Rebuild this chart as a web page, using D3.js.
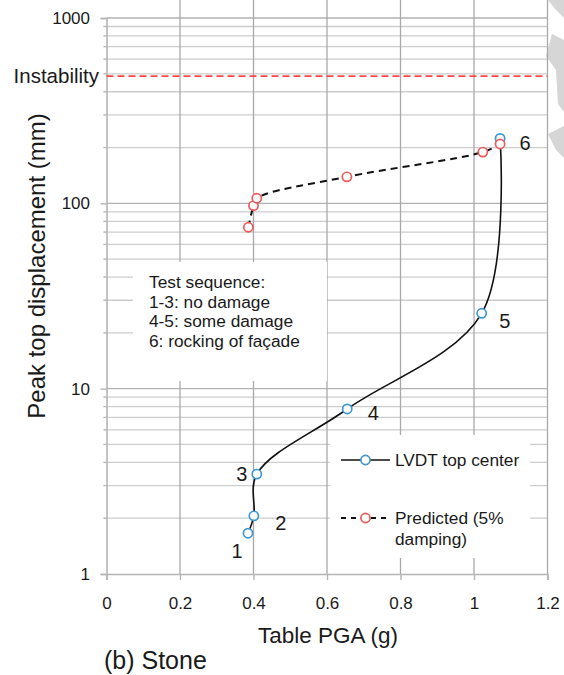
<!DOCTYPE html>
<html>
<head>
<meta charset="utf-8">
<script src="https://cdn.jsdelivr.net/npm/d3@7"></script>
<style>
  body { margin: 0; background: #fff; }
  svg { display: block; font-family: "Liberation Sans", Arial, sans-serif; }
</style>
</head>
<body>
<svg id="chart" width="564" height="675"></svg>
<script>
var testLabels = ["1", "2", "3", "4", "5", "6"];
var lvdtPga = [0.385, 0.401, 0.409, 0.655, 1.021, 1.071];
var lvdtDisp = [1.66, 2.06, 3.46, 7.77, 25.5, 224];
var predPga = [0.386, 0.400, 0.409, 0.654, 1.024, 1.071];
var predDisp = [74.3, 97.2, 106.5, 139, 189, 209];
var instability = 486;
var xTicks = [0, 0.2, 0.4, 0.6, 0.8, 1, 1.2];
var yTicks = [1, 10, 100, 1000];
var annotation = ["Test sequence:", "1-3: no damage", "4-5: some damage", "6: rocking of façade"];

// label offsets from each LVDT point (px)
var labelOffsets = [[-11, 25], [27, 14], [-15, 7], [26, 11], [23, 15], [25, 12]];

var svg = d3.select("#chart");
var x = d3.scaleLinear().domain([0, 1.2]).range([106.5, 547.5]);
var y = d3.scaleLog().domain([1, 1000]).range([574, 18]);
var left = x(0), right = x(1.2), top = y(1000), bottom = y(1);

var blue = "#3d97d3", red = "#ee5a5a";

// page-edge shading at right
svg.append("path")
    .attr("d", "M548,0 L564,0 L564,18 L556,10 Z M552,34 L564,40 L564,112 L558,104 L556,70 L546,56 Z M548,134 L564,126 L564,158 L556,150 Z")
    .attr("fill", "#d6d6d6");

// grid
var grid = svg.append("g");
grid.selectAll(".hminor")
    .data(y.ticks().filter(function (d) { return yTicks.indexOf(d) < 0; }))
    .enter().append("line")
    .attr("x1", left - 3).attr("x2", right)
    .attr("y1", function (d) { return y(d); }).attr("y2", function (d) { return y(d); })
    .attr("stroke", "#cdcdcd").attr("stroke-width", 1.3);
grid.selectAll(".hmajor")
    .data(yTicks.slice(1))
    .enter().append("line")
    .attr("x1", left).attr("x2", right)
    .attr("y1", function (d) { return y(d); }).attr("y2", function (d) { return y(d); })
    .attr("stroke", "#b2b2b2").attr("stroke-width", 1.3);
grid.selectAll(".vmajor")
    .data(xTicks.slice(1))
    .enter().append("line")
    .attr("x1", function (d) { return x(d); }).attr("x2", function (d) { return x(d); })
    .attr("y1", top).attr("y2", bottom)
    .attr("stroke", "#a9a9a9").attr("stroke-width", 1.3);

// white text boxes that hide the grid
svg.append("rect").attr("x", 133).attr("y", 262).attr("width", 194).attr("height", 119).attr("fill", "#fff");
svg.append("rect").attr("x", 330).attr("y", 435).attr("width", 200).attr("height", 123).attr("fill", "#fff");

// axes
var xAxis = svg.append("g")
    .attr("transform", "translate(0," + bottom + ")")
    .call(d3.axisBottom(x).tickValues(xTicks).tickSize(6).tickPadding(17)
        .tickFormat(function (d) { return String(+d.toFixed(1)); }));
var yAxis = svg.append("g")
    .attr("transform", "translate(" + left + ",0)")
    .call(d3.axisLeft(y).tickValues(yTicks).tickSize(6).tickPadding(10.5)
        .tickFormat(function (d) { return String(d); }));
[xAxis, yAxis].forEach(function (a) {
  a.select(".domain").attr("stroke", "#b5b5b5").attr("stroke-width", 1.6);
  a.selectAll(".tick line").attr("stroke", "#b5b5b5").attr("stroke-width", 1.4);
  a.selectAll(".tick text").attr("fill", "#1a1a1a").attr("font-size", 17)
      .attr("font-family", "Liberation Sans, Arial, sans-serif");
});
// minor ticks on y axis
yAxis.selectAll(".mtick")
    .data(y.ticks().filter(function (d) { return yTicks.indexOf(d) < 0; }))
    .enter().append("line")
    .attr("x1", -3).attr("x2", 0)
    .attr("y1", function (d) { return y(d); }).attr("y2", function (d) { return y(d); })
    .attr("stroke", "#b5b5b5");

// instability limit
svg.append("line")
    .attr("x1", left).attr("x2", right)
    .attr("y1", y(instability)).attr("y2", y(instability))
    .attr("stroke", "#ff4747").attr("stroke-width", 1.7).attr("stroke-dasharray", "7,4");
svg.append("text")
    .attr("x", 99).attr("y", y(instability)).attr("dy", "0.35em")
    .attr("text-anchor", "end").attr("font-size", 20.5).attr("fill", "#1a1a1a")
    .text("Instability");

// series
var lvdt = lvdtPga.map(function (d, i) { return [x(d), y(lvdtDisp[i])]; });
var pred = predPga.map(function (d, i) { return [x(d), y(predDisp[i])]; });
var line = d3.line().curve(d3.curveCatmullRom);

svg.append("path").attr("d", line(pred))
    .attr("fill", "none").attr("stroke", "#111").attr("stroke-width", 2)
    .attr("stroke-dasharray", "7,5");
svg.append("path").attr("d", line(lvdt))
    .attr("fill", "none").attr("stroke", "#111").attr("stroke-width", 1.6);

svg.selectAll(".lvdt").data(lvdt).enter().append("circle")
    .attr("cx", function (d) { return d[0]; }).attr("cy", function (d) { return d[1]; })
    .attr("r", 4.6).attr("fill", "#fff").attr("stroke", blue).attr("stroke-width", 1.7);
svg.selectAll(".pred").data(pred).enter().append("circle")
    .attr("cx", function (d) { return d[0]; }).attr("cy", function (d) { return d[1]; })
    .attr("r", 4.6).attr("fill", "#fff").attr("stroke", red).attr("stroke-width", 1.7);

svg.selectAll(".num").data(lvdt).enter().append("text")
    .attr("x", function (d, i) { return d[0] + labelOffsets[i][0]; })
    .attr("y", function (d, i) { return d[1] + labelOffsets[i][1]; })
    .attr("text-anchor", "middle").attr("font-size", 20).attr("fill", "#1a1a1a")
    .text(function (d, i) { return testLabels[i]; });

// annotation box text
svg.append("g").selectAll("text").data(annotation).enter().append("text")
    .attr("x", 149).attr("y", function (d, i) { return 288 + i * 19.6; })
    .attr("font-size", 17.3).attr("fill", "#1a1a1a")
    .text(function (d) { return d; });

// legend
var lg = svg.append("g");
lg.append("line").attr("x1", 341).attr("x2", 390).attr("y1", 460).attr("y2", 460)
    .attr("stroke", "#111").attr("stroke-width", 1.6);
lg.append("circle").attr("cx", 365.5).attr("cy", 460).attr("r", 4.6)
    .attr("fill", "#fff").attr("stroke", blue).attr("stroke-width", 1.7);
lg.append("text").attr("x", 395).attr("y", 466).attr("font-size", 17.3).attr("fill", "#1a1a1a")
    .text("LVDT top center");
lg.append("line").attr("x1", 341).attr("x2", 390).attr("y1", 518).attr("y2", 518)
    .attr("stroke", "#111").attr("stroke-width", 2).attr("stroke-dasharray", "5,5");
lg.append("circle").attr("cx", 365.5).attr("cy", 518).attr("r", 4.6)
    .attr("fill", "#fff").attr("stroke", red).attr("stroke-width", 1.7);
lg.append("text").attr("x", 395).attr("y", 524).attr("font-size", 17.3).attr("fill", "#1a1a1a")
    .text("Predicted (5%");
lg.append("text").attr("x", 395).attr("y", 545).attr("font-size", 17.3).attr("fill", "#1a1a1a")
    .text("damping)");

// titles
svg.append("text")
    .attr("transform", "translate(45," + 266 + ") rotate(-90)")
    .attr("text-anchor", "middle").attr("font-size", 24).attr("fill", "#1a1a1a")
    .text("Peak top displacement (mm)");
svg.append("text")
    .attr("x", 328).attr("y", 643)
    .attr("text-anchor", "middle").attr("font-size", 22.5).attr("fill", "#1a1a1a")
    .text("Table PGA (g)");
svg.append("text")
    .attr("x", 104).attr("y", 669)
    .attr("font-size", 25).attr("fill", "#1a1a1a")
    .text("(b) Stone");
</script>
</body>
</html>
